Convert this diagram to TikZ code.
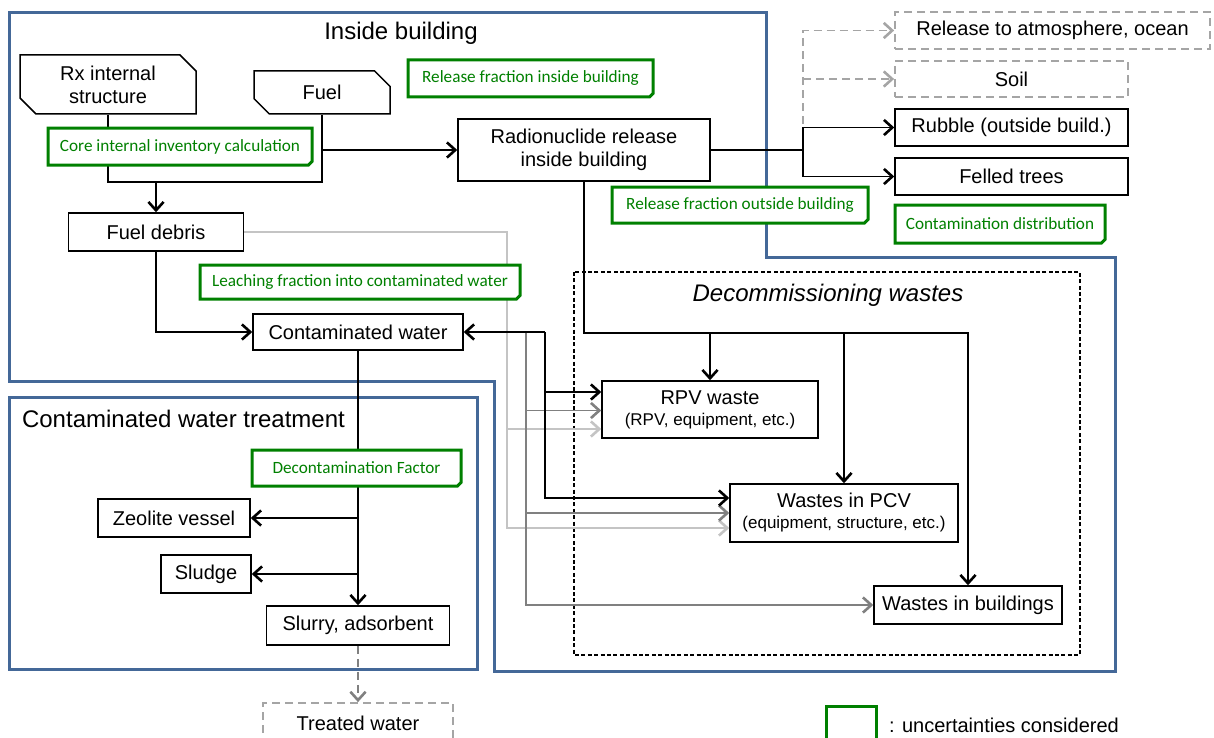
\documentclass[tikz,border=0pt]{standalone}
\usepackage{fontspec}
\setmainfont{Liberation Sans}
\newfontfamily\calfont{Carlito}
\usetikzlibrary{arrows.meta,shapes.misc,calc}
\definecolor{bldblue}{RGB}{68,104,152}
\definecolor{ucgreen}{RGB}{0,128,0}
\definecolor{midgray}{RGB}{128,128,128}
\definecolor{ltgray}{RGB}{196,196,196}
\definecolor{dshgray}{RGB}{165,165,165}
\tikzset{
  box/.style={draw,line width=0.75pt,fill=white,inner sep=0pt,font=\fontsize{10}{11.5}\selectfont,align=center},
  snip/.style={box,chamfered rectangle,chamfered rectangle corners={north east,south west},chamfered rectangle xsep=4pt,chamfered rectangle ysep=4pt},
  unc/.style={draw=ucgreen,line width=1.5pt,fill=white,text=ucgreen,inner sep=0pt,font=\calfont\fontsize{8.6}{10}\selectfont,chamfered rectangle,chamfered rectangle corners=south east,chamfered rectangle xsep=0.9pt,chamfered rectangle ysep=0.9pt},
  ghost/.style={draw=dshgray,line width=0.9pt,dash pattern=on 4pt off 2.5pt,inner sep=0pt,font=\fontsize{10}{12}\selectfont},
  region/.style={draw=bldblue,line width=1.5pt},
  flow/.style={line width=0.8pt,-{Straight Barb[length=4.2pt,width=7.6pt,line width=1.3pt]}},
  trunk/.style={line width=1.1pt},
}
\begin{document}
\begin{tikzpicture}[x=5pt,y=-5pt]
\useasboundingbox (0,0) rectangle (121.4,73.8);
%\draw[thin,dotted] (0,0) grid (121,73);
\draw[region] (0.9,1.3) -- (76.6,1.3) -- (76.6,25.7) -- (111.5,25.7) -- (111.5,67.1) -- (49.4,67.1) -- (49.4,38.1) -- (0.9,38.1) -- cycle;
\draw[region] (0.9,39.7) rectangle (47.7,66.9);
\draw[line width=0.6pt,dash pattern=on 2pt off 1.2pt] (57.4,27.2) rectangle (108.0,65.5);
\node[font=\fontsize{12}{14}\selectfont] (tin) at (40.1,3.3) {Inside building};
\node[anchor=west,font=\fontsize{12}{14}\selectfont] (ttr) at (1.5,41.9) {Contaminated water treatment};
\node[font=\fontsize{12}{14}\selectfont\itshape] (tdw) at (82.8,29.5) {Decommissioning wastes};

\node[snip,minimum width=88pt,minimum height=29.5pt] (rx) at (10.8,8.45) {Rx internal\\structure};
\node[snip,minimum width=68pt,minimum height=21.5pt] (fuel) at (32.2,9.25) {Fuel};
\node[box,minimum width=126pt,minimum height=31pt] (rad) at (58.4,15.0) {Radionuclide release\\inside building};
\node[box,minimum width=87.5pt,minimum height=19pt] (debris) at (15.6,23.2) {Fuel debris};
\node[box,minimum width=105pt,minimum height=18pt] (water) at (35.8,33.2) {Contaminated water};
\node[ghost,minimum width=157.5pt,minimum height=18.5pt] (atmo) at (105.25,3.05) {Release to atmosphere, ocean};
\node[ghost,minimum width=116.5pt,minimum height=18pt] (soil) at (101.15,7.9) {Soil};
\node[box,minimum width=116.5pt,minimum height=18.5pt] (rubble) at (101.15,12.75) {Rubble (outside build.)};
\node[box,minimum width=116.5pt,minimum height=18.5pt] (trees) at (101.15,17.65) {Felled trees};
\node[box,minimum width=108pt,minimum height=28.5pt] (rpv) at (71.0,40.95) {RPV waste\\[-1pt]{\fontsize{8.5}{10}\selectfont(RPV, equipment, etc.)}};
\node[box,minimum width=114pt,minimum height=29pt] (pcv) at (84.4,51.3) {Wastes in PCV\\[-1pt]{\fontsize{8.5}{10}\selectfont(equipment, structure, etc.)}};
\node[box,minimum width=94pt,minimum height=19pt] (bld) at (96.8,60.5) {Wastes in buildings};
\node[box,minimum width=76pt,minimum height=19pt] (zeolite) at (17.4,51.8) {Zeolite vessel};
\node[box,minimum width=45pt,minimum height=19pt] (sludge) at (20.6,57.4) {Sludge};
\node[box,minimum width=91.5pt,minimum height=19.5pt] (slurry) at (35.8,62.55) {Slurry, adsorbent};
\node[ghost,minimum width=95pt,minimum height=20pt] (treated) at (35.8,72.3) {Treated water};

\coordinate (jin) at (15.6,18.2);
\coordinate (jout) at (80.3,15.0);
\coordinate (jdec) at (58.4,33.3);
\coordinate (kx) at (54.5,33.2);
\coordinate (gx) at (52.6,33.2);
\coordinate (lgx) at (50.7,23.2);
\path (rpv.west) ++(0,-1.75) coordinate (rpv1) ++(0,1.85) coordinate (rpv2) ++(0,1.85) coordinate (rpv3);
\path (pcv.west) ++(0,-1.5) coordinate (pcv1) ++(0,1.5) coordinate (pcv2) ++(0,1.5) coordinate (pcv3);

\draw[line width=0.8pt] (rx.south) |- (jin) -| (fuel.south);
\draw[flow] (jin) -- (debris.north);
\draw[flow] (fuel.south |- rad.west) -- (rad.west);
\draw[flow,dshgray,dash pattern=on 4pt off 2.5pt] (jout) |- (atmo.west);
\draw[flow,dshgray,dash pattern=on 4pt off 2.5pt] (jout |- soil.west) -- (soil.west);
\draw[line width=0.8pt] (rad.east) -- (jout);
\draw[flow] (jout) |- (rubble.west);
\draw[flow] (jout) |- (trees.west);
\draw[trunk] (rad.south) -- (jdec) -- (pcv.north |- jdec);
\draw[flow] (pcv.north |- jdec) -| (bld.north);
\draw[flow] (rpv.north |- jdec) -- (rpv.north);
\draw[flow] (pcv.north |- jdec) -- (pcv.north);
\draw[flow] (debris.south) |- (water.west);
\draw[flow,ltgray] (debris.east) -- (lgx) |- (rpv3);
\draw[flow,ltgray] (lgx) |- (pcv3);
\draw[flow,midgray] (gx) |- (rpv2);
\draw[flow,midgray] (gx) |- (pcv2);
\draw[flow,midgray] (gx) |- (bld.west);
\draw[flow] (kx) -- (water.east);
\draw[flow] (kx) |- (rpv1);
\draw[flow] (kx) |- (pcv1);
\draw[flow] (water.south) -- (slurry.north);
\draw[flow] (water.south |- zeolite.east) -- (zeolite.east);
\draw[flow] (water.south |- sludge.east) -- (sludge.east);
\draw[flow,midgray,dash pattern=on 4pt off 2.5pt] (slurry.south) -- (treated.north);

\node[unc,minimum width=132pt,minimum height=18.5pt] (core) at (18.0,14.65) {Core internal inventory calculation};
\node[unc,minimum width=122.5pt,minimum height=18.5pt] (relin) at (53.05,7.85) {Release fraction inside building};
\node[unc,minimum width=160pt,minimum height=17pt] (leach) at (36.0,28.2) {Leaching fraction into contaminated water};
\node[unc,minimum width=128pt,minimum height=18pt] (relout) at (74.0,20.5) {Release fraction outside building};
\node[unc,minimum width=105pt,minimum height=19pt] (dist) at (100.0,22.4) {Contamination distribution};
\node[unc,minimum width=104.5pt,minimum height=18pt] (decon) at (35.65,46.8) {Decontamination Factor};
\node[unc,minimum width=25pt,minimum height=20pt] (key) at (85.1,72.6) {};
\node[anchor=west,font=\fontsize{10}{12}\selectfont] (keytext) at (88.2,72.5) {: uncertainties considered};
\end{tikzpicture}
\end{document}
